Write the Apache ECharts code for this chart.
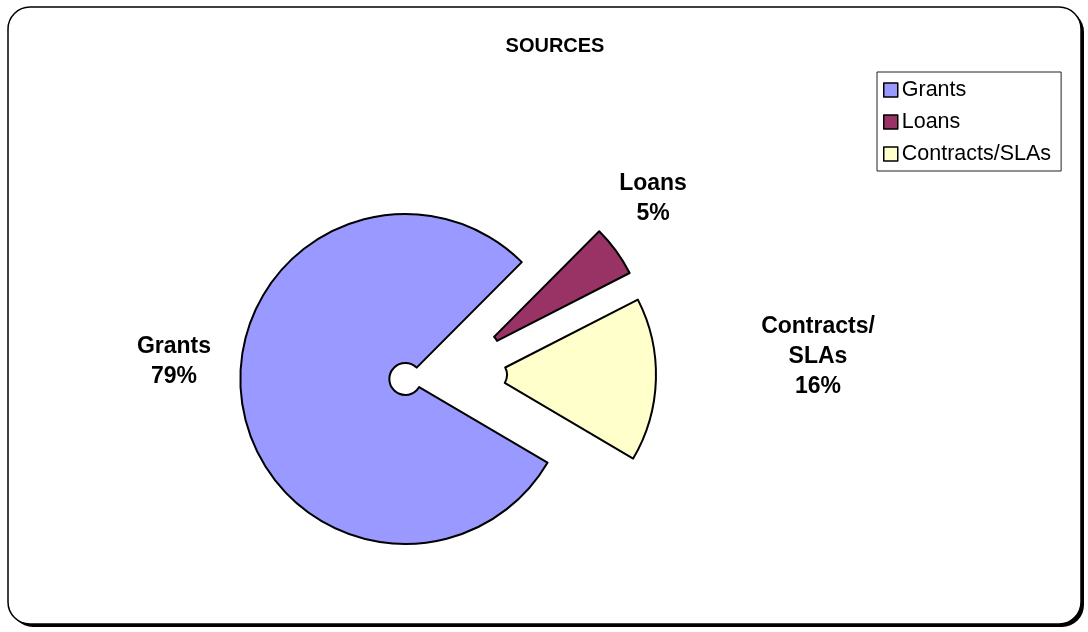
<!DOCTYPE html>
<html>
<head>
<meta charset="utf-8">
<title>SOURCES</title>
<script src="https://cdn.jsdelivr.net/npm/echarts@6/dist/echarts.min.js"></script>
<style>
  html, body { margin: 0; padding: 0; background: #ffffff; }
  #chart { width: 1088px; height: 632px; }
</style>
</head>
<body>
<div id="chart"></div>
<script>
// Funding sources, share of total (%)
const categories = ['Grants', 'Loans', 'Contracts/SLAs'];
const shares = [79, 5, 16];
const sliceColors = ['#9999FF', '#993366', '#FFFFCC'];

const chart = echarts.init(document.getElementById('chart'), null, { renderer: 'canvas' });

const FONT = 'Liberation Sans, Arial, sans-serif';

// where each slice's label block is centred
const labelAnchor = [[174, 362], [653, 199], [818, 357]];

const total = shares.reduce((a, b) => a + b, 0);
const sliceLabels = categories.map((name, i) => ({
  type: 'text',
  x: labelAnchor[i][0],
  y: labelAnchor[i][1],
  z: 10,
  style: {
    text: name.replace('/', '/\n') + '\n' + Math.round(shares[i] / total * 100) + '%',
    fontFamily: FONT,
    fontWeight: 'bold',
    fontSize: 23,
    lineHeight: 30,
    fill: '#000',
    align: 'center',
    verticalAlign: 'middle',
    textAlign: 'center',
    textVerticalAlign: 'middle'
  }
}));

const pieData = categories.map((name, i) => ({
  name: name,
  value: shares[i],
  selected: true,
  itemStyle: { color: sliceColors[i] },
  select: { itemStyle: { color: sliceColors[i], borderColor: '#000', borderWidth: 2 } }
}));

chart.setOption({
  animation: false,
  backgroundColor: '#ffffff',
  graphic: [
    // drop shadow of the rounded frame
    {
      type: 'rect',
      z: -11,
      silent: true,
      shape: { x: 11, y: 10, width: 1073, height: 617, r: 22 },
      style: { fill: '#000000' }
    },
    // rounded frame
    {
      type: 'rect',
      z: -10,
      silent: true,
      shape: { x: 8, y: 7, width: 1073, height: 617, r: 22 },
      style: { fill: '#ffffff', stroke: '#000000', lineWidth: 1.5 }
    }
  ].concat(sliceLabels),
  title: {
    text: 'SOURCES',
    left: 555,
    top: 36,
    padding: 0,
    textAlign: 'center',
    textStyle: {
      fontFamily: FONT,
      fontWeight: 'bold',
      fontSize: 20,
      color: '#000'
    }
  },
  legend: {
    orient: 'vertical',
    left: 877,
    top: 72,
    padding: [7, 10, 6, 6],
    itemGap: 10,
    itemWidth: 14,
    itemHeight: 14,
    icon: 'rect',
    borderColor: '#222',
    borderWidth: 1,
    selectedMode: false,
    itemStyle: { borderColor: '#000', borderWidth: 1.5 },
    textStyle: {
      fontFamily: FONT,
      fontSize: 21.5,
      lineHeight: 22,
      color: '#000',
      padding: [0, 0, 0, -1]
    },
    data: categories
  },
  series: [{
    type: 'pie',
    center: [448, 373.5],
    radius: [16, 165],
    startAngle: 329.5,
    clockwise: true,
    selectedMode: 'multiple',
    selectedOffset: 43,
    avoidLabelOverlap: false,
    itemStyle: { borderColor: '#000', borderWidth: 2 },
    emphasis: { disabled: true },
    label: { show: false },
    labelLine: { show: false },
    data: pieData
  }]
});
</script>
</body>
</html>
